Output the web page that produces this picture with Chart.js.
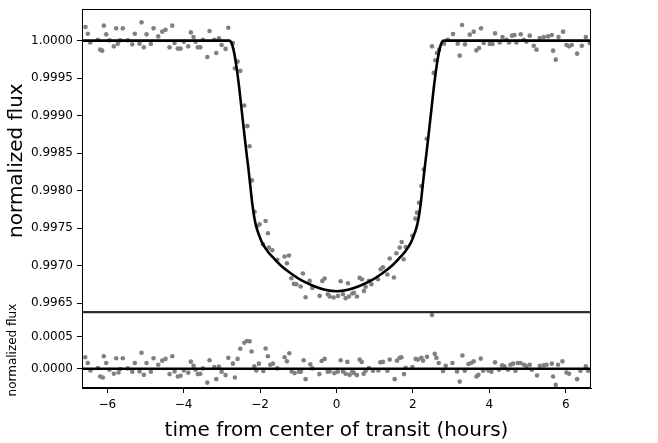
<!DOCTYPE html>
<html>
<head>
<meta charset="utf-8">
<script src="https://cdn.jsdelivr.net/npm/chart.js@4/dist/chart.umd.min.js"></script>
<style>
  body { margin: 0; background: #ffffff; }
  canvas { display: block; }
</style>
</head>
<body>
<canvas id="transit-chart" width="658" height="443"></canvas>
<script>
const fluxTime = [
  -6.568, -6.508, -6.445, -6.246, -6.184, -6.131, -6.089, -6.026, -5.940, -5.827,
  -5.765, -5.723, -5.660, -5.592, -5.461, -5.346, -5.278, -5.154, -5.102, -5.042,
  -4.971, -4.859, -4.788, -4.665, -4.560, -4.474, -4.369, -4.298, -4.238, -4.152,
  -4.081, -3.994, -3.879, -3.811, -3.741, -3.688, -3.628, -3.565, -3.497, -3.382,
  -3.322, -3.198, -3.146, -3.078, -3.007, -2.903, -2.832, -2.711, -2.659, -2.588,
  -2.518, -2.413, -2.334, -2.274, -2.214, -2.143, -2.083, -2.012, -1.926, -1.855,
  -1.795, -1.769, -1.680, -1.549, -1.358, -1.297, -1.245, -1.182, -1.114, -1.051,
  -0.939, -0.878, -0.808, -0.703, -0.632, -0.441, -0.371, -0.310, -0.224, -0.179,
  -0.075, 0.038, 0.109, 0.169, 0.240, 0.300, 0.326, 0.415, 0.457, 0.535,
  0.606, 0.666, 0.719, 0.763, 0.850, 0.913, 1.085, 1.156, 1.216, 1.332,
  1.392, 1.504, 1.567, 1.654, 1.706, 1.758, 1.811, 1.986, 2.065, 2.107,
  2.159, 2.222, 2.282, 2.361, 2.499, 2.544, 2.588, 2.630, 2.683, 2.814,
  2.910, 3.049, 3.172, 3.225, 3.285, 3.363, 3.487, 3.591, 3.662, 3.730,
  3.782, 3.853, 4.010, 4.081, 4.149, 4.272, 4.343, 4.448, 4.516, 4.594,
  4.657, 4.709, 4.822, 4.900, 4.971, 5.058, 5.162, 5.233, 5.320, 5.424,
  5.537, 5.634, 5.668, 5.738, 5.809, 5.930, 6.019, 6.087, 6.157, 6.296,
  6.419, 6.524, 6.629
];
const fluxValue = [
  1.000182, 1.000093, 0.999977, 1.000013, 0.999880, 0.999867, 1.000200, 1.000084, 1.000004, 0.999924,
  1.000164, 0.999960, 1.000004, 1.000164, 1.000004, 0.999951, 1.000093, 0.999960, 1.000244, 0.999911,
  1.000084, 0.999956, 1.000164, 1.000057, 1.000120, 1.000146, 0.999911, 1.000200, 0.999969, 0.999894,
  0.999894, 0.999987, 0.999924, 1.000110, 1.000049, 0.999987, 0.999911, 0.999911, 1.000013, 0.999783,
  1.000129, 1.000013, 0.999836, 1.000031, 0.999943, 0.999890, 1.000173, 0.999969, 0.999631, 0.999721,
  0.999597, 0.999135, 0.998860, 0.998593, 0.998137, 0.997720, 0.997529, 0.997551, 0.997285, 0.997595,
  0.997432, 0.997241, 0.997205, 0.997080, 0.997122, 0.997032, 0.997135, 0.996833, 0.996757, 0.996753,
  0.996722, 0.996895, 0.996580, 0.996797, 0.996704, 0.996597, 0.996797, 0.996829, 0.996620, 0.996589,
  0.996576, 0.996597, 0.996793, 0.996620, 0.996567, 0.996766, 0.996589, 0.996629, 0.996640, 0.996589,
  0.996837, 0.996819, 0.996664, 0.996720, 0.996800, 0.996753, 0.996819, 0.996952, 0.996979, 0.996882,
  0.997095, 0.996842, 0.997165, 0.997241, 0.997316, 0.997086, 0.997250, 0.997400, 0.997627, 0.997707,
  0.997840, 0.998061, 0.998283, 0.998692, 0.999924, 0.999570, 0.999738, 0.999836, 0.999880, 0.999960,
  1.000013, 1.000089, 0.999960, 0.999800, 1.000209, 0.999951, 1.000080, 1.000120, 0.999871, 0.999903,
  1.000164, 0.999969, 0.999956, 0.999956, 1.000097, 0.999977, 1.000049, 1.000013, 0.999977, 1.000067,
  1.000076, 0.999977, 1.000084, 1.000013, 0.999987, 1.000067, 0.999933, 0.999880, 1.000036, 1.000049,
  1.000057, 1.000076, 0.999867, 0.999747, 1.000049, 1.000120, 0.999943, 0.999924, 0.999943, 0.999827,
  0.999933, 1.000049, 0.999969
];

// Best-fit transit model (black curve)
const modelTime = [
  -6.66, -2.80, -2.75, -2.70, -2.65, -2.60, -2.55, -2.50, -2.45, -2.40,
  -2.35, -2.30, -2.25, -2.20, -2.15, -2.10, -2.05, -1.95, -1.80, -1.66,
  -1.45, -1.20, -0.90, -0.60, -0.30, 0.00, 0.30, 0.60, 0.90, 1.20,
  1.45, 1.66, 1.80, 1.95, 2.05, 2.10, 2.15, 2.20, 2.25, 2.30,
  2.35, 2.40, 2.45, 2.50, 2.55, 2.60, 2.65, 2.70, 2.75, 2.80, 6.66
];
const modelFlux = [
  1.00000, 1.00000, 0.99997, 0.99989, 0.99976, 0.99959, 0.99939, 0.99916, 0.99893, 0.99870,
  0.99848, 0.99827, 0.99804, 0.99781, 0.99764, 0.99752, 0.99744, 0.99731, 0.99719, 0.99711,
  0.99700, 0.99690, 0.99680, 0.99673, 0.99668, 0.99666, 0.99668, 0.99673, 0.99680, 0.99690,
  0.99700, 0.99711, 0.99719, 0.99731, 0.99744, 0.99752, 0.99764, 0.99781, 0.99804, 0.99827,
  0.99848, 0.99870, 0.99893, 0.99916, 0.99939, 0.99959, 0.99976, 0.99989, 0.99997, 1.00000, 1.00000
];

// Residuals (bottom panel)
const residTime = [
  -6.576, -6.508, -6.438, -6.246, -6.184, -6.115, -6.089, -6.026, -5.940, -5.827,
  -5.765, -5.704, -5.660, -5.592, -5.461, -5.346, -5.278, -5.154, -5.102, -5.042,
  -4.971, -4.859, -4.788, -4.665, -4.560, -4.474, -4.369, -4.298, -4.238, -4.152,
  -4.081, -3.994, -3.879, -3.811, -3.741, -3.688, -3.628, -3.565, -3.497, -3.382,
  -3.322, -3.198, -3.146, -3.078, -3.007, -2.903, -2.832, -2.711, -2.659, -2.588,
  -2.518, -2.413, -2.345, -2.274, -2.222, -2.151, -2.099, -2.031, -1.915, -1.855,
  -1.795, -1.732, -1.664, -1.549, -1.358, -1.297, -1.235, -1.174, -1.096, -0.983,
  -0.931, -0.860, -0.808, -0.685, -0.632, -0.449, -0.389, -0.310, -0.232, -0.179,
  -0.056, 0.030, 0.109, 0.169, 0.240, 0.284, 0.344, 0.415, 0.457, 0.535,
  0.606, 0.659, 0.711, 0.763, 0.850, 0.954, 1.096, 1.148, 1.216, 1.332,
  1.392, 1.523, 1.583, 1.654, 1.698, 1.766, 1.811, 1.986, 2.073, 2.133,
  2.222, 2.264, 2.368, 2.499, 2.570, 2.615, 2.675, 2.787, 2.858, 3.033,
  3.154, 3.225, 3.295, 3.356, 3.452, 3.521, 3.591, 3.662, 3.714, 3.775,
  3.835, 3.976, 4.055, 4.149, 4.254, 4.332, 4.395, 4.489, 4.552, 4.620,
  4.683, 4.743, 4.814, 4.908, 4.971, 5.058, 5.110, 5.249, 5.320, 5.424,
  5.495, 5.634, 5.668, 5.738, 5.799, 5.914, 6.019, 6.087, 6.296, 6.385,
  6.524, 6.584
];
const residValue = [
  0.000178, 0.000090, -0.000027, 0.000011, -0.000121, -0.000137, 0.000194, 0.000090, -0.000016, -0.000079,
  0.000162, -0.000058, -0.000005, 0.000162, 0.000005, -0.000047, 0.000090, -0.000043, 0.000248, -0.000095,
  0.000090, -0.000047, 0.000162, 0.000063, 0.000126, 0.000153, -0.000084, 0.000194, -0.000043, -0.000121,
  -0.000110, -0.000027, -0.000063, 0.000110, 0.000047, -0.000016, -0.000084, -0.000079, 0.000005, -0.000216,
  0.000131, 0.000027, -0.000162, 0.000032, -0.000047, -0.000099, 0.000169, 0.000079, -0.000137, 0.000153,
  0.000311, 0.000405, 0.000431, 0.000426, 0.000268, 0.000036, -0.000027, 0.000079, -0.000036, 0.000315,
  0.000194, 0.000063, 0.000079, 0.000005, 0.000178, 0.000115, 0.000241, -0.000043, -0.000068, -0.000047,
  -0.000047, 0.000131, -0.000162, 0.000068, 0.000005, -0.000084, 0.000121, 0.000153, -0.000047, -0.000043,
  -0.000068, -0.000047, 0.000131, -0.000043, -0.000079, 0.000106, -0.000095, -0.000043, -0.000068, -0.000099,
  0.000142, 0.000106, -0.000079, -0.000032, 0.000011, -0.000032, -0.000027, 0.000099, 0.000106, -0.000032,
  0.000142, -0.000162, 0.000126, 0.000169, 0.000178, -0.000084, 0.000016, 0.000027, 0.000153, 0.000142,
  0.000169, 0.000126, 0.000185, 0.000836, 0.000232, 0.000169, 0.000090, -0.000036, 0.000047, 0.000090,
  -0.000043, -0.000200, 0.000205, -0.000032, 0.000074, 0.000090, 0.000115, -0.000121, -0.000095, 0.000158,
  -0.000032, -0.000027, -0.000047, 0.000099, -0.000016, 0.000052, 0.000036, -0.000016, 0.000063, 0.000079,
  -0.000032, 0.000090, 0.000090, 0.000063, 0.000036, 0.000063, -0.000016, -0.000106, 0.000047, 0.000052,
  0.000063, 0.000079, -0.000121, -0.000252, 0.000063, 0.000115, -0.000058, -0.000079, -0.000162, -0.000032,
  0.000036, -0.000032
];
const zeroTime = [-6.66, 6.66];
const zeroValue = [0, 0];

// Axis ranges and tick labels
const timeRange = [-6.66, 6.66];
const timeTicks = [-6, -4, -2, 0, 2, 4, 6];
const fluxRange = [0.99638, 1.000422];
const fluxTicks = [0.9965, 0.9970, 0.9975, 0.9980, 0.9985, 0.9990, 0.9995, 1.0000];
const residRange = [-0.0003, 0.00088];
const residTicks = [0, 0.0005];

function toPoints(xs, ys) {
  return xs.map((x, i) => ({ x: x, y: ys[i] }));
}

function fixedTicks(values) {
  return function (scale) {
    scale.ticks = values.map((v) => ({ value: v }));
  };
}

function minusLabel(value) {
  return value < 0 ? "\u2212" + Math.abs(value) : String(value);
}

// draws the black box around each panel like matplotlib spines
const panelFrames = {
  id: "panelFrames",
  afterDraw(chart) {
    const ctx = chart.ctx;
    const area = chart.chartArea;
    ctx.save();
    ctx.strokeStyle = "#000000";
    ctx.lineWidth = 1;
    ["yFlux", "yResid"].forEach((id) => {
      const s = chart.scales[id];
      ctx.strokeRect(area.left + 0.5, s.top + 0.5, area.right - area.left - 1, s.bottom - s.top - 1);
    });
    ctx.restore();
  },
};

const tickFont = { family: "DejaVu Sans", size: 12 };

function yAxis(range, ticks, stackWeight, title) {
  return {
    type: "linear",
    position: "left",
    stack: "panels",
    stackWeight: stackWeight,
    min: range[0],
    max: range[1],
    afterBuildTicks: fixedTicks(ticks),
    afterFit: (scale) => {
      scale.width = 82;
      scale.paddingTop = 0;
      scale.paddingBottom = 0;
    },
    grid: { drawOnChartArea: false, drawTicks: true, tickLength: 5, tickColor: "#000000" },
    border: { display: true, color: "#000000", width: 1 },
    ticks: {
      color: "#000000",
      font: tickFont,
      padding: 4,
      callback: (value) => value.toFixed(4),
    },
    title: title,
  };
}

const ctx = document.getElementById("transit-chart").getContext("2d");

const transitChart = new Chart(ctx, {
  type: "scatter",
  data: {
    datasets: [
      {
        label: "model",
        type: "line",
        data: toPoints(modelTime, modelFlux),
        xAxisID: "x",
        yAxisID: "yFlux",
        borderColor: "#000000",
        borderWidth: 2.6,
        pointRadius: 0,
        fill: false,
        cubicInterpolationMode: "monotone",
      },
      {
        label: "zero",
        type: "line",
        data: toPoints(zeroTime, zeroValue),
        xAxisID: "x",
        yAxisID: "yResid",
        borderColor: "#000000",
        borderWidth: 2.6,
        pointRadius: 0,
        fill: false,
      },
      {
        label: "flux",
        data: toPoints(fluxTime, fluxValue),
        xAxisID: "x",
        yAxisID: "yFlux",
        backgroundColor: "#808080",
        borderWidth: 0,
        pointRadius: 2.3,
      },
      {
        label: "residuals",
        data: toPoints(residTime, residValue),
        xAxisID: "x",
        yAxisID: "yResid",
        backgroundColor: "#808080",
        borderWidth: 0,
        pointRadius: 2.3,
      },
    ],
  },
  options: {
    responsive: false,
    animation: false,
    layout: { padding: { top: 9, right: 67, bottom: 0, left: 0 } },
    plugins: {
      legend: { display: false },
      tooltip: { enabled: false },
    },
    scales: {
      x: {
        type: "linear",
        position: "bottom",
        min: timeRange[0],
        max: timeRange[1],
        afterBuildTicks: fixedTicks(timeTicks),
        afterFit: (scale) => {
          scale.height = 55;
          scale.paddingLeft = 0;
          scale.paddingRight = 0;
        },
        grid: { drawOnChartArea: false, drawTicks: true, tickLength: 5, tickColor: "#000000" },
        border: { display: true, color: "#000000", width: 1 },
        ticks: { color: "#000000", font: tickFont, padding: 5, callback: minusLabel },
        title: {
          display: true,
          text: "time from center of transit (hours)",
          color: "#000000",
          font: { family: "DejaVu Sans", size: 20 },
          padding: { top: 4, bottom: 0 },
        },
      },
      yResid: yAxis(residRange, residTicks, 1, {
        display: true,
        text: "normalized flux",
        color: "#000000",
        font: { family: "DejaVu Sans", size: 12 },
        padding: { top: 6, bottom: 0 },
      }),
      yFlux: yAxis(fluxRange, fluxTicks, 4, {
        display: true,
        text: "normalized flux",
        color: "#000000",
        font: { family: "DejaVu Sans", size: 20 },
        padding: { top: 5, bottom: 0 },
      }),
    },
  },
  plugins: [panelFrames],
});
</script>
</body>
</html>
